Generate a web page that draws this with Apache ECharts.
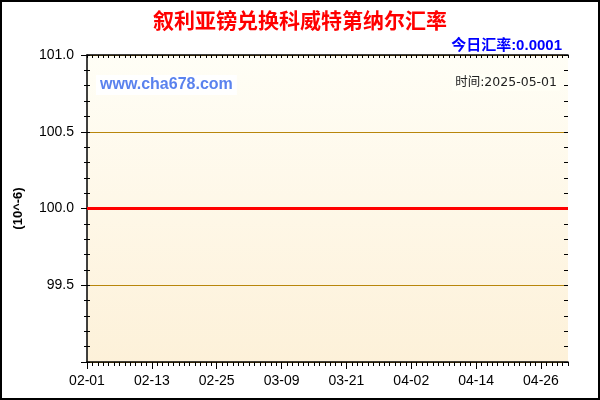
<!DOCTYPE html>
<html>
<head>
<meta charset="utf-8">
<script src="https://cdn.jsdelivr.net/npm/echarts@6/dist/echarts.min.js"></script>
<style>
  html, body { margin: 0; padding: 0; background: #fff; }
  #main { width: 600px; height: 400px; }
</style>
</head>
<body>
<div id="main"></div>
<script>
// Dates on the x axis (2025-02-01 .. 2025-05-01)
const dates = [
  '02-01', '02-02', '02-03', '02-04', '02-05', '02-06', '02-07', '02-08', '02-09', '02-10',
  '02-11', '02-12', '02-13', '02-14', '02-15', '02-16', '02-17', '02-18', '02-19', '02-20',
  '02-21', '02-22', '02-23', '02-24', '02-25', '02-26', '02-27', '02-28',
  '03-01', '03-02', '03-03', '03-04', '03-05', '03-06', '03-07', '03-08', '03-09', '03-10',
  '03-11', '03-12', '03-13', '03-14', '03-15', '03-16', '03-17', '03-18', '03-19', '03-20',
  '03-21', '03-22', '03-23', '03-24', '03-25', '03-26', '03-27', '03-28', '03-29', '03-30', '03-31',
  '04-01', '04-02', '04-03', '04-04', '04-05', '04-06', '04-07', '04-08', '04-09', '04-10',
  '04-11', '04-12', '04-13', '04-14', '04-15', '04-16', '04-17', '04-18', '04-19', '04-20',
  '04-21', '04-22', '04-23', '04-24', '04-25', '04-26', '04-27', '04-28', '04-29', '04-30',
  '05-01'
];

// Daily rate, in units of 10^-6
const rates = [
  100.0, 100.0, 100.0, 100.0, 100.0, 100.0, 100.0, 100.0, 100.0, 100.0,
  100.0, 100.0, 100.0, 100.0, 100.0, 100.0, 100.0, 100.0, 100.0, 100.0,
  100.0, 100.0, 100.0, 100.0, 100.0, 100.0, 100.0, 100.0,
  100.0, 100.0, 100.0, 100.0, 100.0, 100.0, 100.0, 100.0, 100.0, 100.0,
  100.0, 100.0, 100.0, 100.0, 100.0, 100.0, 100.0, 100.0, 100.0, 100.0,
  100.0, 100.0, 100.0, 100.0, 100.0, 100.0, 100.0, 100.0, 100.0, 100.0, 100.0,
  100.0, 100.0, 100.0, 100.0, 100.0, 100.0, 100.0, 100.0, 100.0, 100.0,
  100.0, 100.0, 100.0, 100.0, 100.0, 100.0, 100.0, 100.0, 100.0, 100.0,
  100.0, 100.0, 100.0, 100.0, 100.0, 100.0, 100.0, 100.0, 100.0, 100.0,
  100.0
];

const yMin = 99.0;
const yMax = 101.0;
const yStep = 0.5;
const labelEvery = 12; // one date label every 12 days

const titleText = '叙利亚镑兑换科威特第纳尔汇率';
const todayText = '今日汇率:0.0001';
const siteText = 'www.cha678.com';
const timeText = '时间:2025-05-01';
const unitText = '(10^-6)';

const latin = '"Liberation Sans", Arial, sans-serif';
const cjk = '"Liberation Sans", "Noto Sans CJK SC", sans-serif';
const mono = '"DejaVu Sans", "Noto Sans CJK SC", sans-serif';

const axisBlack = { lineStyle: { color: '#000', width: 1.5 } };

const makeChart = () => {
  const chart = echarts.init(document.getElementById('main'), null, { renderer: 'canvas' });

  chart.setOption({
    animation: false,
    backgroundColor: '#fff',
    title: [
      {
        text: titleText,
        left: 'center',
        top: 7,
        textStyle: { color: '#ff0000', fontSize: 21, fontWeight: 'bold', fontFamily: cjk }
      },
      {
        text: todayText,
        right: 33,
        top: 33,
        textStyle: { color: '#0000ff', fontSize: 15, fontWeight: 'bold', fontFamily: cjk }
      },
      {
        text: siteText,
        left: 96,
        top: 75,
        padding: [2, 4],
        backgroundColor: '#ffffff',
        textStyle: { color: '#5a82ee', fontSize: 16, fontWeight: 'bold', fontFamily: latin }
      },
      {
        text: timeText,
        right: 40,
        top: 74,
        padding: [2, 3],
        backgroundColor: '#fffff6',
        textStyle: { color: '#222', fontSize: 12.5, fontWeight: 'normal', fontFamily: mono }
      }
    ],
    graphic: [
      {
        type: 'rect',
        shape: { x: 1, y: 1, width: 598, height: 398 },
        style: { fill: 'none', stroke: '#000', lineWidth: 2 },
        silent: true,
        z: 100
      }
    ],
    grid: {
      left: 87,
      right: 32,
      top: 55,
      bottom: 38,
      show: true,
      borderWidth: 0,
      backgroundColor: new echarts.graphic.LinearGradient(0, 0, 0, 1, [
        { offset: 0, color: '#fffef6' },
        { offset: 1, color: '#fdf1d9' }
      ])
    },
    xAxis: [
      {
        type: 'category',
        data: dates,
        boundaryGap: false,
        position: 'bottom',
        axisLine: axisBlack,
        axisTick: { show: true, interval: 0, length: 4, lineStyle: { color: '#000' } },
        axisLabel: {
          interval: labelEvery - 1,
          color: '#000',
          fontSize: 14,
          fontFamily: latin,
          margin: 12
        },
        splitLine: { show: false }
      },
      {
        type: 'category',
        data: dates,
        boundaryGap: false,
        position: 'bottom',
        axisLine: { show: false },
        axisTick: { show: true, interval: labelEvery - 1, length: 7, lineStyle: { color: '#000' } },
        axisLabel: { show: false },
        splitLine: { show: false }
      },
      {
        type: 'category',
        data: dates,
        boundaryGap: false,
        position: 'top',
        axisLine: axisBlack,
        axisTick: { show: true, inside: true, interval: 0, length: 3, lineStyle: { color: '#000' } },
        axisLabel: { show: false },
        splitLine: { show: false }
      }
    ],
    yAxis: [
      {
        type: 'value',
        min: yMin,
        max: yMax,
        interval: yStep,
        position: 'left',
        name: unitText,
        nameLocation: 'middle',
        nameRotate: 90,
        nameGap: 62,
        nameTextStyle: { color: '#000', fontSize: 13, fontWeight: 'bold', fontFamily: latin },
        axisLine: { show: true, lineStyle: { color: '#000', width: 1.5 } },
        axisTick: { show: true, length: 6, lineStyle: { color: '#000' } },
        minorTick: { show: true, splitNumber: 5, length: 3, lineStyle: { color: '#000' } },
        axisLabel: {
          showMinLabel: false,
          color: '#000',
          fontSize: 14,
          fontFamily: latin,
          margin: 13,
          formatter: (v) => v.toFixed(1)
        },
        splitLine: { show: true, lineStyle: { color: '#b8860b', width: 1 } }
      },
      {
        type: 'value',
        min: yMin,
        max: yMax,
        interval: yStep,
        position: 'left',
        axisLine: { show: false },
        axisTick: { show: true, inside: true, length: 3, lineStyle: { color: '#000' } },
        minorTick: { show: true, splitNumber: 5, length: 3, lineStyle: { color: '#000' } },
        axisLabel: { show: false },
        splitLine: { show: false }
      },
      {
        type: 'value',
        min: yMin,
        max: yMax,
        interval: yStep,
        position: 'right',
        axisLine: axisBlack,
        axisTick: { show: true, inside: true, length: 4, lineStyle: { color: '#000' } },
        minorTick: { show: true, splitNumber: 5, length: 4, lineStyle: { color: '#000' } },
        axisLabel: { show: false },
        splitLine: { show: false }
      }
    ],
    series: [
      {
        type: 'line',
        data: rates,
        showSymbol: false,
        symbol: 'none',
        lineStyle: { color: '#ff0000', width: 3 },
        z: 5
      }
    ]
  });
};

if (document.readyState != 'loading') {
  makeChart();
} else {
  document.addEventListener('DOMContentLoaded', makeChart);
}
</script>
</body>
</html>
